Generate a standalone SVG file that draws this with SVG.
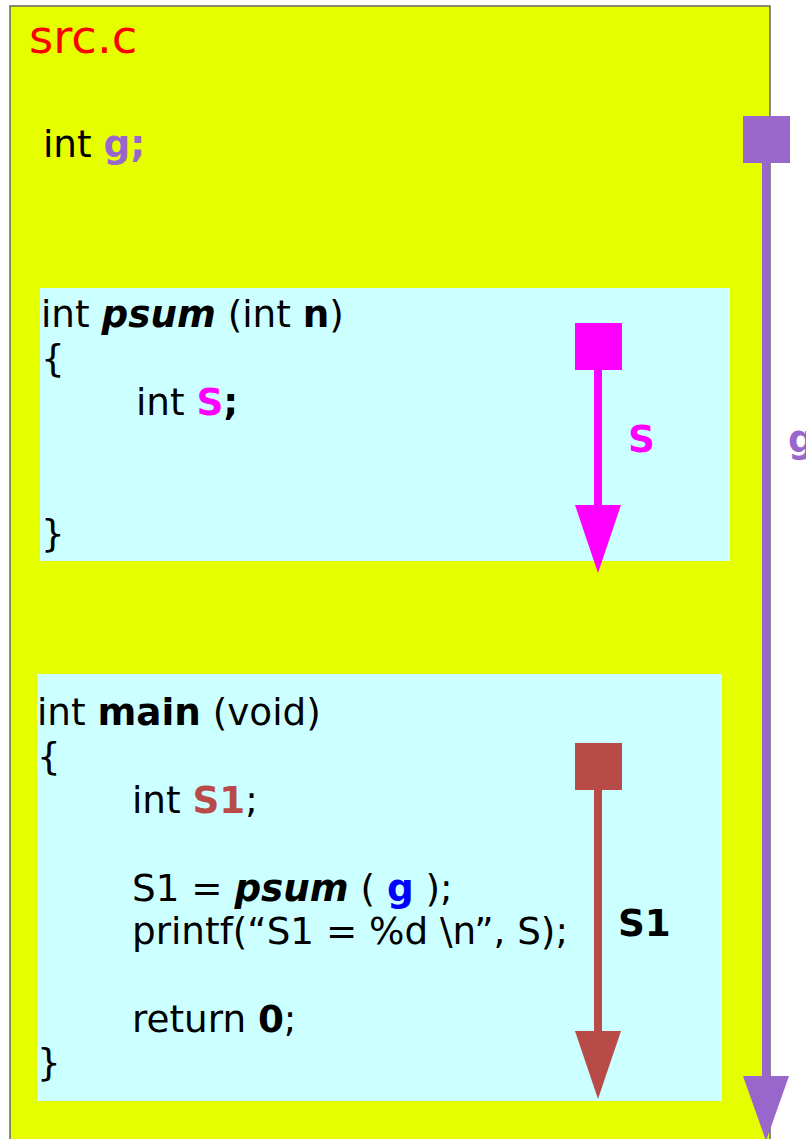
<svg xmlns="http://www.w3.org/2000/svg" width="806" height="1139" viewBox="0 0 806 1139">
  <style>
    text { font-family: "DejaVu Sans", "Liberation Sans", sans-serif; font-size: 37.3px; fill: #000; }
    .b { font-weight: bold; }
    .bi { font-weight: bold; font-style: italic; }
    .purple { fill: #9966CC; }
    .magenta { fill: #FF00FF; }
    .brown { fill: #B84A48; }
    .blue { fill: #0000FF; }
    .box { fill: #CCFFFF; }
  </style>

  <rect width="806" height="1139" fill="#FFFFFF"/>

  <!-- source file frame -->
  <g id="file">
    <rect x="10" y="6" width="760" height="1145" fill="#E6FF00" stroke="#666666" stroke-width="1.5"/>
    <text x="29" y="53" style="font-size:46.5px; fill:#FF0000">src.c</text>
    <text x="43" y="157">int <tspan class="b purple">g;</tspan></text>
  </g>

  <!-- function psum -->
  <g id="psum">
    <rect class="box" x="40" y="288" width="690" height="273"/>
    <text x="41" y="327">int <tspan class="bi">psum</tspan> (int <tspan class="b">n</tspan>)</text>
    <text x="41" y="371">{</text>
    <text x="136" y="415">int <tspan class="b magenta">S</tspan><tspan class="b">;</tspan></text>
    <text x="41" y="546">}</text>
  </g>

  <!-- function main -->
  <g id="main">
    <rect class="box" x="37" y="674" width="685" height="427"/>
    <text x="37" y="725">int <tspan class="b">main</tspan> (void)</text>
    <text x="37" y="769">{</text>
    <text x="132" y="813">int <tspan class="b brown">S1</tspan>;</text>
    <text x="132" y="901">S1 = <tspan class="bi">psum</tspan> ( <tspan class="b blue">g</tspan> );</text>
    <text x="132" y="944">printf(“S1 = %d \n”, S);</text>
    <text x="132" y="1032">return <tspan class="b">0</tspan>;</text>
    <text x="37" y="1075">}</text>
  </g>

  <!-- lifetime arrows -->
  <g id="connectors">
    <g id="life-g">
      <rect x="743" y="116" width="47" height="47" fill="#9966CC"/>
      <rect x="762" y="160" width="8" height="920" fill="#9966CC"/>
      <polygon points="743,1076 789,1076 766,1141" fill="#9966CC"/>
      <text class="b purple" x="788" y="452">g</text>
    </g>
    <g id="life-S">
      <rect x="575" y="323" width="47" height="47" fill="#FF00FF"/>
      <rect x="594" y="368" width="8" height="140" fill="#FF00FF"/>
      <polygon points="575,505 621,505 598,573" fill="#FF00FF"/>
      <text class="b magenta" x="628" y="452">S</text>
    </g>
    <g id="life-S1">
      <rect x="575" y="743" width="47" height="47" fill="#B84A48"/>
      <rect x="594" y="788" width="8" height="246" fill="#B84A48"/>
      <polygon points="575,1031 621,1031 598,1099" fill="#B84A48"/>
      <text class="b" x="618" y="936">S1</text>
    </g>
  </g>
</svg>
